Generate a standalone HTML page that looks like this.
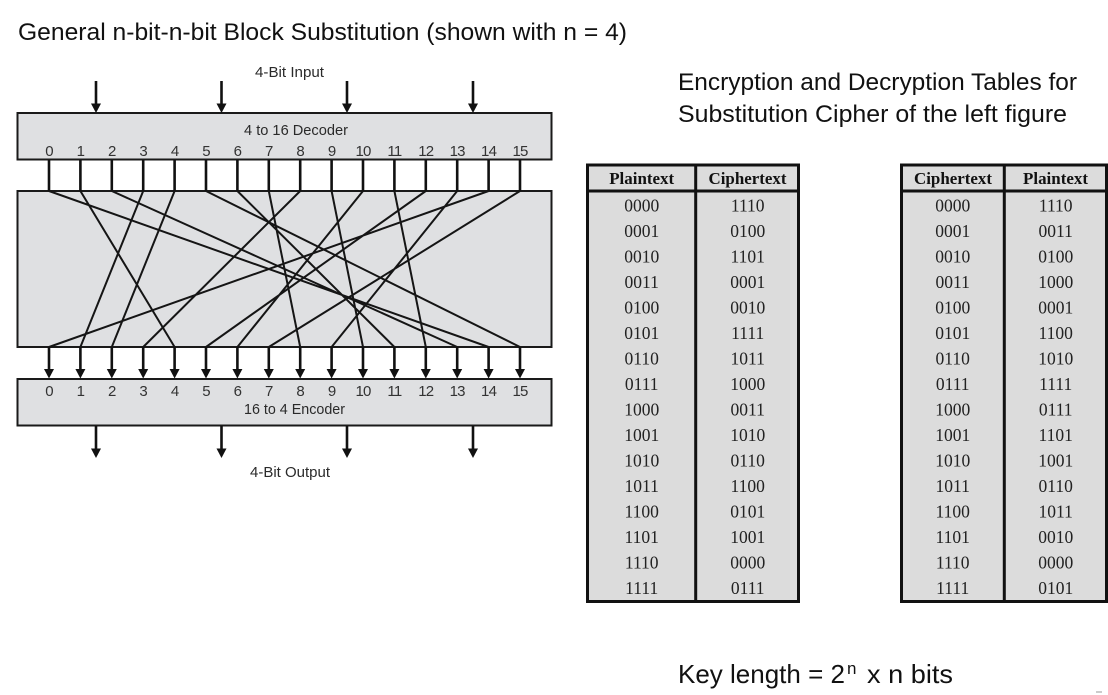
<!DOCTYPE html>
<html><head><meta charset="utf-8"><style>
html,body{margin:0;padding:0;background:#fff;width:1108px;height:695px;overflow:hidden}
svg{display:block;filter:blur(.35px)}
.t{font-family:"Liberation Sans",sans-serif;fill:#111}
.l{font-family:"Liberation Sans",sans-serif;fill:#2a2a2a;font-size:15px;text-anchor:middle}
.n{font-family:"Liberation Sans",sans-serif;fill:#333;font-size:15px;text-anchor:middle;letter-spacing:-.8px}
.c{font-family:"Liberation Serif",serif;fill:#222;font-size:17.5px;text-anchor:middle}
.h{font-family:"Liberation Serif",serif;fill:#111;font-size:17px;font-weight:bold;text-anchor:middle}
.w{stroke:#151515;stroke-width:2;fill:none}
.b{fill:#dfe0e2;stroke:#1a1a1a;stroke-width:2}
.a{stroke:#111;stroke-width:2.6;fill:none}
.p{fill:#dcdcdc;stroke:#111;stroke-width:3}
</style></head><body>
<svg width="1108" height="695" viewBox="0 0 1108 695" xmlns="http://www.w3.org/2000/svg">
<defs><path id="ah" d="M-5 -9.5 L5 -9.5 L0 0 Z" fill="#111"/></defs>

<text class="t" x="18" y="40" font-size="24" textLength="609" lengthAdjust="spacingAndGlyphs">General n-bit-n-bit Block Substitution (shown with n = 4)</text>
<text class="t" x="678" y="90" font-size="24" textLength="399" lengthAdjust="spacingAndGlyphs">Encryption and Decryption Tables for</text>
<text class="t" x="678" y="122" font-size="24" textLength="389" lengthAdjust="spacingAndGlyphs">Substitution Cipher of the left figure</text>
<text class="t" x="678" y="683" font-size="26">Key length = 2</text>
<text class="t" x="847" y="674" font-size="17">n</text>
<text class="t" x="867" y="683" font-size="26" textLength="86" lengthAdjust="spacingAndGlyphs">x n bits</text>

<!-- boxes -->
<rect class="b" x="17.5" y="113" width="534" height="46.5"/>
<rect class="b" x="17.5" y="191" width="534" height="156"/>
<rect class="b" x="17.5" y="379" width="534" height="46.5"/>

<text class="l" x="289.5" y="77" textLength="69" lengthAdjust="spacingAndGlyphs">4-Bit Input</text>
<text class="l" x="296" y="135" textLength="104" lengthAdjust="spacingAndGlyphs">4 to 16 Decoder</text>
<text class="l" x="294.5" y="414" textLength="101" lengthAdjust="spacingAndGlyphs">16 to 4 Encoder</text>
<text class="l" x="290" y="477" textLength="80" lengthAdjust="spacingAndGlyphs">4-Bit Output</text>

<!-- input / output arrows -->
<path class="a" d="M96 81V106M221.5 81V106M347 81V106M473 81V106M96 426V450M221.5 426V450M347 426V450M473 426V450"/>
<use href="#ah" x="96" y="113"/><use href="#ah" x="221.5" y="113"/><use href="#ah" x="347" y="113"/><use href="#ah" x="473" y="113"/>
<use href="#ah" x="96" y="458"/><use href="#ah" x="221.5" y="458"/><use href="#ah" x="347" y="458"/><use href="#ah" x="473" y="458"/>

<!-- decoder numbers -->
<g>
<text class="n" x="49" y="156">0</text><text class="n" x="80.4" y="156">1</text><text class="n" x="111.8" y="156">2</text><text class="n" x="143.2" y="156">3</text><text class="n" x="174.6" y="156">4</text><text class="n" x="206" y="156">5</text><text class="n" x="237.4" y="156">6</text><text class="n" x="268.8" y="156">7</text><text class="n" x="300.2" y="156">8</text><text class="n" x="331.6" y="156">9</text><text class="n" x="363" y="156">10</text><text class="n" x="394.4" y="156">11</text><text class="n" x="425.8" y="156">12</text><text class="n" x="457.2" y="156">13</text><text class="n" x="488.6" y="156">14</text><text class="n" x="520" y="156">15</text>
</g>
<g>
<text class="n" x="49" y="396">0</text><text class="n" x="80.4" y="396">1</text><text class="n" x="111.8" y="396">2</text><text class="n" x="143.2" y="396">3</text><text class="n" x="174.6" y="396">4</text><text class="n" x="206" y="396">5</text><text class="n" x="237.4" y="396">6</text><text class="n" x="268.8" y="396">7</text><text class="n" x="300.2" y="396">8</text><text class="n" x="331.6" y="396">9</text><text class="n" x="363" y="396">10</text><text class="n" x="394.4" y="396">11</text><text class="n" x="425.8" y="396">12</text><text class="n" x="457.2" y="396">13</text><text class="n" x="488.6" y="396">14</text><text class="n" x="520" y="396">15</text>
</g>

<!-- wires decoder to box -->
<path class="a" d="M49 160V191M80.4 160V191M111.8 160V191M143.2 160V191M174.6 160V191M206 160V191M237.4 160V191M268.8 160V191M300.2 160V191M331.6 160V191M363 160V191M394.4 160V191M425.8 160V191M457.2 160V191M488.6 160V191M520 160V191"/>

<!-- permutation -->
<path class="w" d="M49 191L488.6 347M80.4 191L174.6 347M111.8 191L457.2 347M143.2 191L80.4 347M174.6 191L111.8 347M206 191L520 347M237.4 191L394.4 347M268.8 191L300.2 347M300.2 191L143.2 347M331.6 191L363 347M363 191L237.4 347M394.4 191L425.8 347M425.8 191L206 347M457.2 191L331.6 347M488.6 191L49 347M520 191L268.8 347"/>

<!-- arrows to encoder -->
<path class="a" d="M49 347V371M80.4 347V371M111.8 347V371M143.2 347V371M174.6 347V371M206 347V371M237.4 347V371M268.8 347V371M300.2 347V371M331.6 347V371M363 347V371M394.4 347V371M425.8 347V371M457.2 347V371M488.6 347V371M520 347V371"/>
<use href="#ah" x="49" y="378.5"/><use href="#ah" x="80.4" y="378.5"/><use href="#ah" x="111.8" y="378.5"/><use href="#ah" x="143.2" y="378.5"/><use href="#ah" x="174.6" y="378.5"/><use href="#ah" x="206" y="378.5"/><use href="#ah" x="237.4" y="378.5"/><use href="#ah" x="268.8" y="378.5"/><use href="#ah" x="300.2" y="378.5"/><use href="#ah" x="331.6" y="378.5"/><use href="#ah" x="363" y="378.5"/><use href="#ah" x="394.4" y="378.5"/><use href="#ah" x="425.8" y="378.5"/><use href="#ah" x="457.2" y="378.5"/><use href="#ah" x="488.6" y="378.5"/><use href="#ah" x="520" y="378.5"/>

<!-- left table -->
<rect class="p" x="587.5" y="165" width="211" height="436.5"/>
<path d="M587 191H799M695.7 165V601" stroke="#111" stroke-width="3" fill="none"/>
<text class="h" x="641.7" y="184" textLength="65" lengthAdjust="spacingAndGlyphs">Plaintext</text>
<text class="h" x="747.5" y="184" textLength="78" lengthAdjust="spacingAndGlyphs">Ciphertext</text>
<g>
<text class="c" x="641.7" y="211.5">0000</text><text class="c" x="747.7" y="211.5">1110</text>
<text class="c" x="641.7" y="237">0001</text><text class="c" x="747.7" y="237">0100</text>
<text class="c" x="641.7" y="262.5">0010</text><text class="c" x="747.7" y="262.5">1101</text>
<text class="c" x="641.7" y="288">0011</text><text class="c" x="747.7" y="288">0001</text>
<text class="c" x="641.7" y="313.5">0100</text><text class="c" x="747.7" y="313.5">0010</text>
<text class="c" x="641.7" y="339">0101</text><text class="c" x="747.7" y="339">1111</text>
<text class="c" x="641.7" y="364.5">0110</text><text class="c" x="747.7" y="364.5">1011</text>
<text class="c" x="641.7" y="390">0111</text><text class="c" x="747.7" y="390">1000</text>
<text class="c" x="641.7" y="415.5">1000</text><text class="c" x="747.7" y="415.5">0011</text>
<text class="c" x="641.7" y="441">1001</text><text class="c" x="747.7" y="441">1010</text>
<text class="c" x="641.7" y="466.5">1010</text><text class="c" x="747.7" y="466.5">0110</text>
<text class="c" x="641.7" y="492">1011</text><text class="c" x="747.7" y="492">1100</text>
<text class="c" x="641.7" y="517.5">1100</text><text class="c" x="747.7" y="517.5">0101</text>
<text class="c" x="641.7" y="543">1101</text><text class="c" x="747.7" y="543">1001</text>
<text class="c" x="641.7" y="568.5">1110</text><text class="c" x="747.7" y="568.5">0000</text>
<text class="c" x="641.7" y="594">1111</text><text class="c" x="747.7" y="594">0111</text>
</g>

<!-- right table -->
<rect class="p" x="901.5" y="165" width="205" height="436.5"/>
<path d="M901 191H1107M1004.3 165V601" stroke="#111" stroke-width="3" fill="none"/>
<text class="h" x="953" y="184" textLength="78" lengthAdjust="spacingAndGlyphs">Ciphertext</text>
<text class="h" x="1055.5" y="184" textLength="65" lengthAdjust="spacingAndGlyphs">Plaintext</text>
<g>
<text class="c" x="952.7" y="211.5">0000</text><text class="c" x="1055.7" y="211.5">1110</text>
<text class="c" x="952.7" y="237">0001</text><text class="c" x="1055.7" y="237">0011</text>
<text class="c" x="952.7" y="262.5">0010</text><text class="c" x="1055.7" y="262.5">0100</text>
<text class="c" x="952.7" y="288">0011</text><text class="c" x="1055.7" y="288">1000</text>
<text class="c" x="952.7" y="313.5">0100</text><text class="c" x="1055.7" y="313.5">0001</text>
<text class="c" x="952.7" y="339">0101</text><text class="c" x="1055.7" y="339">1100</text>
<text class="c" x="952.7" y="364.5">0110</text><text class="c" x="1055.7" y="364.5">1010</text>
<text class="c" x="952.7" y="390">0111</text><text class="c" x="1055.7" y="390">1111</text>
<text class="c" x="952.7" y="415.5">1000</text><text class="c" x="1055.7" y="415.5">0111</text>
<text class="c" x="952.7" y="441">1001</text><text class="c" x="1055.7" y="441">1101</text>
<text class="c" x="952.7" y="466.5">1010</text><text class="c" x="1055.7" y="466.5">1001</text>
<text class="c" x="952.7" y="492">1011</text><text class="c" x="1055.7" y="492">0110</text>
<text class="c" x="952.7" y="517.5">1100</text><text class="c" x="1055.7" y="517.5">1011</text>
<text class="c" x="952.7" y="543">1101</text><text class="c" x="1055.7" y="543">0010</text>
<text class="c" x="952.7" y="568.5">1110</text><text class="c" x="1055.7" y="568.5">0000</text>
<text class="c" x="952.7" y="594">1111</text><text class="c" x="1055.7" y="594">0101</text>
</g>
<path d="M1096 692H1102" stroke="#999" stroke-width="1"/>
</svg>
</body></html>
